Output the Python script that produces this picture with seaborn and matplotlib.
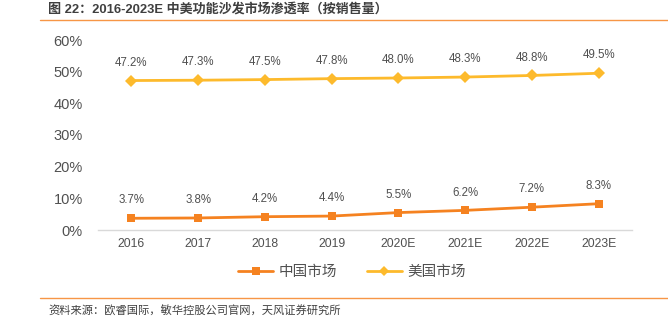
import matplotlib
matplotlib.use("Agg")
import matplotlib.pyplot as plt
import seaborn as sns
import pandas as pd
from matplotlib.lines import Line2D

years = ["2016", "2017", "2018", "2019", "2020E", "2021E", "2022E", "2023E"]
china = [3.7, 3.8, 4.2, 4.4, 5.5, 6.2, 7.2, 8.3]
usa = [47.2, 47.3, 47.5, 47.8, 48.0, 48.3, 48.8, 49.5]
yticks = [0, 10, 20, 30, 40, 50, 60]

sns.set_theme(style="white")
plt.rcParams['font.family'] = ['Liberation Sans', 'Noto Sans CJK SC', 'DejaVu Sans']

C_CN = "#F58220"
C_US = "#FDBA2C"
TXT = "#505050"

df = pd.DataFrame({"year": years * 2,
                   "value": china + usa,
                   "series": ["中国市场"] * len(years) + ["美国市场"] * len(years)})

fig = plt.figure(figsize=(6.68, 3.23), dpi=100)
ax = fig.add_axes([98/668, 1-230/323, (632-98)/668, (230-40)/323])

sns.lineplot(data=df[df.series == "中国市场"], x="year", y="value", ax=ax, sort=False,
             color=C_CN, marker="s", markersize=6, linewidth=2, markeredgewidth=0)
sns.lineplot(data=df[df.series == "美国市场"], x="year", y="value", ax=ax, sort=False,
             color=C_US, marker="D", markersize=6, linewidth=2, markeredgewidth=0)

for i, v in enumerate(china):
    ax.annotate(f"{v:.1f}%", (i, v), xytext=(0, 8.5), textcoords="offset points",
                ha="center", va="bottom", fontsize=8.3, color=TXT)
for i, v in enumerate(usa):
    ax.annotate(f"{v:.1f}%", (i, v), xytext=(0, 8.5), textcoords="offset points",
                ha="center", va="bottom", fontsize=8.3, color=TXT)

ax.set_xlim(-0.5, len(years) - 0.5)
ax.set_ylim(0, 60)
ax.set_yticks(yticks)
ax.set_yticklabels([f"{t}%" for t in yticks], fontsize=10.5, color=TXT)
ax.set_xticks(range(len(years)))
ax.set_xticklabels(years, fontsize=8.8, color=TXT)
ax.set_xlabel("")
ax.set_ylabel("")
for s in ["top", "right", "left"]:
    ax.spines[s].set_visible(False)
ax.spines["bottom"].set_color("#D9D9D9")
ax.spines["bottom"].set_linewidth(1)
ax.tick_params(axis="both", length=0, pad=6)
ax.tick_params(axis="y", pad=11)

handles = [Line2D([0], [0], color=C_CN, marker="s", markersize=6, linewidth=2, markeredgewidth=0),
           Line2D([0], [0], color=C_US, marker="D", markersize=5, linewidth=2, markeredgewidth=0)]
fig.legend(handles, ["中国市场", "美国市场"], loc="center", bbox_to_anchor=(0.527, 1-272/323),
           ncol=2, frameon=False, fontsize=10.5, handlelength=2.4, columnspacing=2.0,
           handletextpad=0.4, labelcolor=TXT)

fig.text(48/668, 1-9/323, "图 22：2016-2023E 中美功能沙发市场渗透率（按销售量）", fontsize=9.4,
         fontweight="bold", color="#3F3F3F", ha="left", va="center")
fig.add_artist(Line2D([40/668, 1], [1-20/323, 1-20/323], color="#F79646", linewidth=1))
fig.add_artist(Line2D([40/668, 1], [1-298/323, 1-298/323], color="#F79646", linewidth=1))
fig.text(48/668, 1-311/323, "资料来源：欧睿国际，敏华控股公司官网，天风证券研究所", fontsize=8.1,
         color="#404040", ha="left", va="center")

fig.savefig("out.png", dpi=100)
